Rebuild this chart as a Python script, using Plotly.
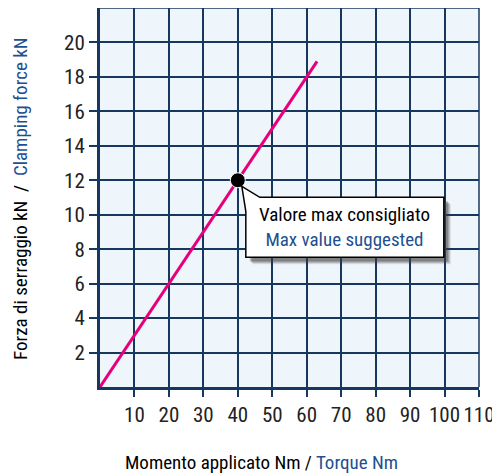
import plotly.graph_objects as go

# Data
torque_nm = [0, 63]
force_kn = [0, 18.9]
max_torque = [40]
max_force = [12]
x_ticks = [10, 20, 30, 40, 50, 60, 70, 80, 90, 100, 110]
y_ticks = [2, 4, 6, 8, 10, 12, 14, 16, 18, 20]

FONT = "Roboto Condensed, Liberation Sans Narrow, Arial Narrow, sans-serif"
BLUE = "#1d4f91"
NAVY = "#17375e"

fig = go.Figure()
fig.add_trace(go.Scatter(x=torque_nm, y=force_kn, mode="lines",
                         line=dict(color="#e5007d", width=3), hoverinfo="skip"))
fig.add_trace(go.Scatter(x=max_torque, y=max_force, mode="markers",
                         marker=dict(color="black", size=15, line=dict(color="white", width=1)),
                         hoverinfo="skip"))

px0, py0 = max_torque[0], max_force[0]
L, R, T, B = 8, 206, -17, -77

def bubble(dx, dy):
    return (f"M {4+dx},{-6+dy} L {22+dx},{T+dy} L {R+dx},{T+dy} L {R+dx},{B+dy} "
            f"L {L+dx},{B+dy} L {L+dx},{T-14+dy} Z")

def rect(dx, dy):
    return f"M {L+dx},{T+dy} L {R+dx},{T+dy} L {R+dx},{B+dy} L {L+dx},{B+dy} Z"

# shadow layers
for off, op in [(7, 0.12), (6, 0.18), (5, 0.25), (4, 0.3)]:
    fig.add_shape(type="path", xref="x", yref="y", xsizemode="pixel", ysizemode="pixel",
                  xanchor=px0, yanchor=py0, path=rect(off, -off),
                  fillcolor="rgba(60,60,60,%s)" % op, line=dict(width=0), layer="above")
fig.add_shape(type="path", xref="x", yref="y", xsizemode="pixel", ysizemode="pixel",
              xanchor=px0, yanchor=py0, path=bubble(0, 0),
              fillcolor="white", line=dict(color="black", width=1.5), layer="above")

fig.add_annotation(x=px0, y=py0, xref="x", yref="y", showarrow=False,
                   xshift=(L + R) / 2, yshift=(T + B) / 2, xanchor="center", yanchor="middle",
                   text=f"Valore max consigliato<br><span style='color:{BLUE}'>Max value suggested</span>",
                   font=dict(family=FONT, size=19, color="black"))

# axis titles
fig.add_annotation(x=-0.211, y=0.496, xref="paper", yref="paper", showarrow=False,
                   textangle=-90, xanchor="center", yanchor="middle",
                   text=f"Forza di serraggio kN&nbsp; /&nbsp; <span style='color:{BLUE}'>Clamping force kN</span>",
                   font=dict(family=FONT, size=19, color="black"))
fig.add_annotation(x=0.4274, y=-0.2005, xref="paper", yref="paper", showarrow=False,
                   xanchor="center", yanchor="middle",
                   text=f"Momento applicato Nm / <span style='color:{BLUE}'>Torque Nm</span>",
                   font=dict(family=FONT, size=19, color="black"))

fig.update_xaxes(range=[0, 110], tickvals=x_ticks, ticktext=[str(v) for v in x_ticks],
                 tickangle=0,
                 ticks="outside", ticklen=7, tickwidth=1.5, tickcolor=NAVY,
                 showgrid=True, gridcolor=NAVY, gridwidth=1.5, zeroline=False,
                 showline=True, linecolor=NAVY, linewidth=3,
                 tickfont=dict(family=FONT, size=21, color="#222"), fixedrange=True)
fig.update_yaxes(range=[0, 22], tickvals=y_ticks,
                 ticks="outside", ticklen=8, tickwidth=1.5, tickcolor=NAVY,
                 showgrid=True, gridcolor=NAVY, gridwidth=1.5, zeroline=False,
                 showline=True, linecolor=NAVY, linewidth=3,
                 tickfont=dict(family=FONT, size=21, color="#222"), fixedrange=True)

fig.update_layout(
    width=492, height=466,
    margin=dict(l=92, r=21, t=0, b=87),
    paper_bgcolor="white", plot_bgcolor="#eef5fb",
    showlegend=False,
)
# grid lines at top / right edges
fig.add_shape(type="line", xref="paper", yref="paper", x0=0, x1=1, y0=1, y1=1,
              line=dict(color=NAVY, width=1.5), layer="below")
fig.add_shape(type="line", xref="paper", yref="paper", x0=1, x1=1, y0=0, y1=1,
              line=dict(color=NAVY, width=1.5), layer="below")

fig.write_html("out.html")
